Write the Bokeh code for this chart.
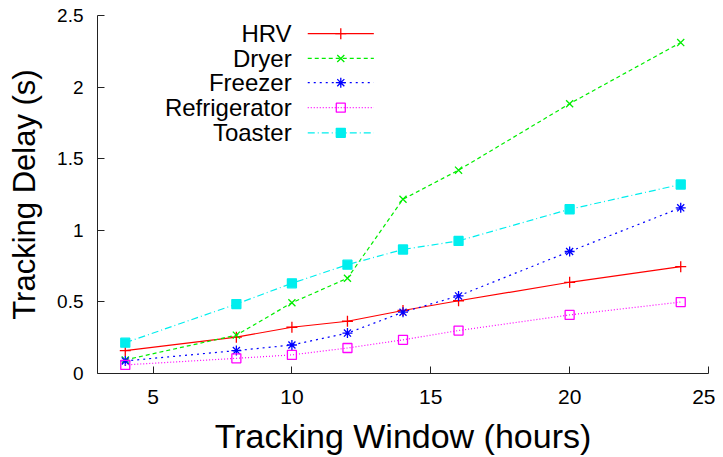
from bokeh.plotting import figure
from bokeh.models import Label, FixedTicker, Range1d
from bokeh.embed import file_html
from bokeh.resources import INLINE

# ---- data ----
window_hours = [4, 8, 10, 12, 14, 16, 20, 24]
hrv = [0.16, 0.254, 0.323, 0.365, 0.44, 0.508, 0.637, 0.746]
dryer = [0.095, 0.268, 0.494, 0.665, 1.217, 1.42, 1.884, 2.311]
freezer = [0.088, 0.16, 0.199, 0.282, 0.428, 0.542, 0.852, 1.157]
refrigerator = [0.06, 0.106, 0.13, 0.178, 0.235, 0.30, 0.409, 0.499]
toaster = [0.215, 0.485, 0.63, 0.76, 0.866, 0.926, 1.147, 1.32]

series_names = ["HRV", "Dryer", "Freezer", "Refrigerator", "Toaster"]
series_values = [hrv, dryer, freezer, refrigerator, toaster]

x_ticks = [5, 10, 15, 20, 25]
x_tick_labels = ["5", "10", "15", "20", "25"]
y_ticks = [0, 0.5, 1, 1.5, 2, 2.5]
y_tick_labels = ["0", "0.5", "1", "1.5", "2", "2.5"]

# ---- styles ----
colors = ["#ff0000", "#00ee00", "#0000ff", "#ff00ff", "#00eeee"]
dashes = ["solid", "4 3", "2 4", "1 2", "7 3 1 3"]
markers = ["cross", "x", "asterisk", "square", "square"]
fills = [None, None, None, None, "#00eeee"]
msizes = [11, 10, 10, 9, 9]

FONT = "Liberation Sans"

p = figure(width=715, height=457, output_backend="svg", toolbar_location=None,
           x_range=Range1d(3, 25), y_range=Range1d(0, 2.5),
           min_border_left=97, min_border_right=7, min_border_top=15,
           min_border_bottom=81)
p.outline_line_color = None
p.xgrid.visible = False
p.ygrid.visible = False
p.background_fill_color = "white"
p.border_fill_color = "white"

for ax in (p.xaxis[0], p.yaxis[0]):
    ax.axis_line_color = "#222222"
    ax.axis_line_width = 1
    ax.major_tick_line_color = "#222222"
    ax.major_tick_in = 7
    ax.major_tick_out = 0
    ax.minor_tick_line_color = None
    ax.major_label_text_font = FONT
    ax.major_label_text_color = "black"
    ax.axis_label_text_font = FONT
    ax.axis_label_text_font_style = "normal"
    ax.axis_label_text_color = "black"

p.xaxis.major_label_text_font_size = "21px"
p.yaxis.major_label_text_font_size = "19px"
p.xaxis.axis_label_text_font_size = "34px"
p.yaxis.axis_label_text_font_size = "31px"

p.xaxis.ticker = FixedTicker(ticks=x_ticks)
p.xaxis.major_label_overrides = {t: l for t, l in zip(x_ticks, x_tick_labels)}
p.yaxis.ticker = FixedTicker(ticks=y_ticks)
p.yaxis.major_label_overrides = {t: l for t, l in zip(y_ticks, y_tick_labels)}
p.xaxis.axis_label = "Tracking Window (hours)"
p.yaxis.axis_label = "Tracking Delay (s)"
p.xaxis.major_label_standoff = 16
p.yaxis.major_label_standoff = 14
p.xaxis.axis_label_standoff = 10
p.yaxis.axis_label_standoff = 12

for name, vals, c, d, m, f, s in zip(series_names, series_values, colors, dashes, markers, fills, msizes):
    p.line(window_hours, vals, line_color=c, line_dash=d, line_width=1.2)
    p.scatter(window_hours, vals, marker=m, size=s, line_color=c,
              fill_color=f, line_width=1.3)

# ---- legend (label left, sample right, gnuplot style) ----
leg_y = [2.373, 2.200, 2.031, 1.856, 1.681]
leg_text_x = 9.99
leg_x0, leg_x1, leg_xm = 10.57, 12.95, 11.76
for name, yy, c, d, m, f, s in zip(series_names, leg_y, colors, dashes, markers, fills, msizes):
    p.add_layout(Label(x=leg_text_x, y=yy, text=name, text_align="right",
                       text_baseline="middle", text_font=FONT,
                       text_font_size="24px", text_color="black"))
    p.line([leg_x0, leg_x1], [yy, yy], line_color=c, line_dash=d, line_width=1.2)
    p.scatter([leg_xm], [yy], marker=m, size=s, line_color=c, fill_color=f,
              line_width=1.3)

open("out.html", "w").write(file_html(p, INLINE))
